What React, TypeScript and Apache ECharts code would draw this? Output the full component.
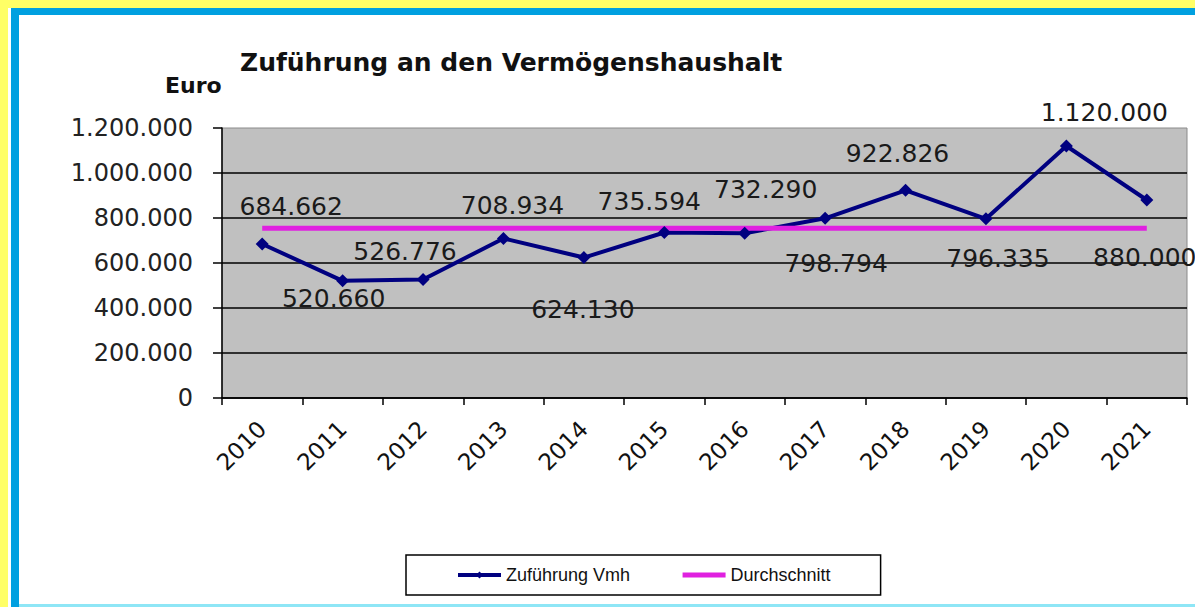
import React, { useEffect, useRef } from 'react';
import * as echarts from 'echarts';

const years = ['2010', '2011', '2012', '2013', '2014', '2015', '2016', '2017', '2018', '2019', '2020', '2021'];
const zufuehrungVmh = [684662, 520660, 526776, 708934, 624130, 735594, 732290, 798794, 922826, 796335, 1120000, 880000];
const durchschnitt = [754250, 754250, 754250, 754250, 754250, 754250, 754250, 754250, 754250, 754250, 754250, 754250];
const seriesNames = ['Zuführung Vmh', 'Durchschnitt'];
const chartTitle = 'Zuführung an den Vermögenshaushalt';
const unitLabel = 'Euro';

// label offsets (style only): [dx, dy] from the marker
const labelOffsets: number[][] = [
  [29, -37], [-9, 18], [-18, -28], [9, -33], [-1, 52], [-15, -31],
  [21, -44], [11, 45], [-8, -37], [12, 40], [38, -34], [-2, 57],
];

const fmt = (v: number) => Math.round(v).toString().replace(/\B(?=(\d{3})+(?!\d))/g, '.');

export default function App() {
  const ref = useRef<HTMLDivElement>(null);
  useEffect(() => {
    const chart = echarts.init(ref.current!, null, { renderer: 'svg' });
    chart.setOption({
      animation: false,
      backgroundColor: '#ffffff',
      graphic: [
        { type: 'rect', shape: { x: 0, y: 0, width: 8, height: 607 }, style: { fill: '#FFFF66' } },
        { type: 'rect', shape: { x: 0, y: 0, width: 1195, height: 8 }, style: { fill: '#FFFF66' } },
        { type: 'rect', shape: { x: 11, y: 8, width: 8, height: 599 }, style: { fill: '#00A0E0' } },
        { type: 'rect', shape: { x: 11, y: 8, width: 1184, height: 7 }, style: { fill: '#00A0E0' } },
        { type: 'rect', shape: { x: 19, y: 604, width: 1176, height: 3 }, style: { fill: '#8EE6F6' } },
        {
          type: 'text', x: 240, y: 62,
          style: { text: chartTitle, fill: '#111', font: 'bold 25px "DejaVu Sans"', align: 'left', verticalAlign: 'middle' },
        },
        {
          type: 'text', x: 165, y: 85,
          style: { text: unitLabel, fill: '#111', font: 'bold 22px "DejaVu Sans"', align: 'left', verticalAlign: 'middle' },
        },
      ],
      grid: {
        left: 222, right: 8, top: 128, bottom: 209,
        show: true, backgroundColor: '#C0C0C0', borderColor: '#8a8a8a', borderWidth: 1,
      },
      legend: {
        left: 406, top: 555,
        padding: [11, 50, 11, 50],
        itemGap: 50, itemWidth: 43, itemHeight: 9,
        backgroundColor: '#ffffff', borderColor: '#000', borderWidth: 1.5, borderRadius: 0,
        textStyle: { fontFamily: '"Liberation Sans"', fontSize: 18, color: '#111' },
        data: [
          { name: seriesNames[0], lineStyle: { width: 4 } },
          { name: seriesNames[1], lineStyle: { width: 5 }, itemStyle: { opacity: 0 } },
        ],
      },
      xAxis: {
        type: 'category',
        data: years,
        boundaryGap: true,
        axisLine: { lineStyle: { color: '#000', width: 1.5 } },
        axisTick: { show: true, length: 7, interval: 0, lineStyle: { color: '#000', width: 1.5 } },
        axisLabel: { interval: 0, rotate: 45, margin: 27, fontFamily: '"DejaVu Sans"', fontSize: 23, color: '#111' },
        splitLine: { show: false },
      },
      yAxis: {
        type: 'value',
        min: 0, max: 1200000, interval: 200000,
        axisLine: { show: true, lineStyle: { color: '#000', width: 1.5 } },
        axisTick: { show: true, length: 9, lineStyle: { color: '#000', width: 1.5 } },
        axisLabel: { margin: 29, fontFamily: '"DejaVu Sans"', fontSize: 24, color: '#222', formatter: (v: number) => fmt(v) },
        splitLine: { show: true, showMaxLine: false, lineStyle: { color: '#000', width: 1.5 } },
      },
      series: [
        {
          name: seriesNames[0],
          type: 'line',
          data: zufuehrungVmh.map((v, i) => ({ value: v, label: { offset: labelOffsets[i] } })),
          symbol: 'diamond', symbolSize: 13,
          itemStyle: { color: '#000080' },
          lineStyle: { color: '#000080', width: 4 },
          label: {
            show: true, position: 'inside',
            formatter: (p: any) => fmt(p.value),
            fontFamily: '"DejaVu Sans"', fontSize: 25, color: '#1a1a1a',
          },
        },
        {
          name: seriesNames[1],
          type: 'line',
          data: durchschnitt,
          symbol: 'none',
          itemStyle: { color: '#E020E0' },
          lineStyle: { color: '#E020E0', width: 5 },
        },
      ],
    });
    return () => chart.dispose();
  }, []);
  return (
    <div
      ref={ref}
      style={{ position: 'fixed', left: 0, top: 0, width: 1195, height: 607, background: '#fff' }}
    />
  );
}
